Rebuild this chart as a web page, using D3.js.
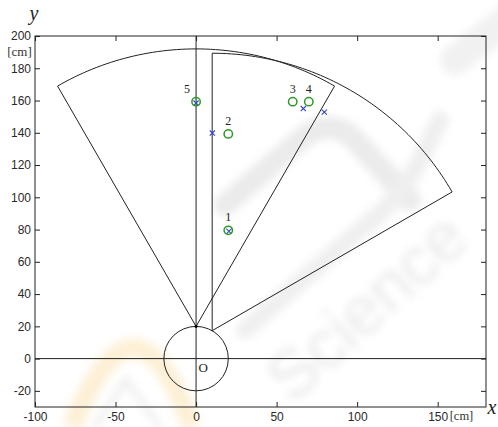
<!DOCTYPE html>
<html><head><meta charset="utf-8">
<script src="https://cdn.jsdelivr.net/npm/d3@7"></script>
<style>
html,body{margin:0;padding:0;background:#fff;}
svg{display:block;}
.tick text{font-family:"Liberation Sans",Arial,sans-serif;font-size:12px;fill:#2a2a2a;}
</style></head>
<body>
<svg id="c" width="498" height="427"></svg>
<script>
// ---- data ----
const xTicks = [-100, -50, 0, 50, 100, 150];
const yTicks = [-20, 0, 20, 40, 60, 80, 100, 120, 140, 160, 180, 200];
const xDomain = [-100, 180];
const yDomain = [-30, 200];
const robotRadius = 20;
const sensorMountAngle = [90, 60];   // degrees, position on robot circle
const sensorHeading = [90, 60];      // degrees, centre of field of view
const sensorFov = [60, 60];          // degrees
const sensorRange = [172, 172];      // cm
const targetLabels = ["1", "2", "3", "4", "5"];
const targetX = [20, 20, 60, 70, 0];
const targetY = [79.5, 139.3, 159.3, 159.3, 159.3];
const estX = [20.4, 10.1, 66.6, 79.6, 0];
const estY = [79, 139.8, 155, 152.8, 158.4];

// ---- layout ----
const svg = d3.select("#c");
const x = d3.scaleLinear().domain(xDomain).range([35, 486]);
const y = d3.scaleLinear().domain(yDomain).range([407, 36]);
const ink = "#222";
const serif = "Liberation Serif, Times New Roman, serif";

// ---- faint watermark ----
const defs = svg.append("defs");
defs.append("filter").attr("id", "blur").append("feGaussianBlur").attr("stdDeviation", 4);
const wm = svg.append("g").attr("filter", "url(#blur)").attr("opacity", 0.55);
wm.append("text").attr("transform", "translate(292,405) rotate(-42)")
  .attr("font-family", "Liberation Sans, Arial, sans-serif").attr("font-size", 68)
  .attr("fill", "#d9d9d9").text("Science");
wm.append("path").attr("d", "M225,205 L300,140 Q330,115 355,140 L410,200")
  .attr("fill", "none").attr("stroke", "#dadada").attr("stroke-width", 22).attr("stroke-linecap", "round");
wm.append("path").attr("d", "M245,330 L360,230 Q400,200 420,160 L440,120")
  .attr("fill", "none").attr("stroke", "#e2e2e2").attr("stroke-width", 18).attr("stroke-linecap", "round");
wm.append("path").attr("d", "M455,60 L520,10").attr("stroke", "#e6e6e6").attr("stroke-width", 30).attr("stroke-linecap", "round");
wm.append("path").attr("d", "M72,427 Q135,270 192,427")
  .attr("fill", "none").attr("stroke", "#fbe3b5").attr("stroke-width", 20);
wm.append("path").attr("d", "M95,427 L126,380 L160,427")
  .attr("fill", "none").attr("stroke", "#e0e0e0").attr("stroke-width", 6);

// ---- frame and axes ----
svg.append("rect").attr("x", x(xDomain[0])).attr("y", y(yDomain[1]))
  .attr("width", x(xDomain[1]) - x(xDomain[0])).attr("height", y(yDomain[0]) - y(yDomain[1]))
  .attr("fill", "none").attr("stroke", ink).attr("stroke-width", 1);

const fmt = d => String(d);
const ax = svg.append("g");
ax.append("g").attr("transform", `translate(0,${y(yDomain[0])})`)
  .call(d3.axisBottom(x).tickValues(xTicks).tickSize(-5).tickPadding(5).tickFormat(fmt));
ax.append("g").attr("transform", `translate(${x(xDomain[0])},0)`)
  .call(d3.axisLeft(y).tickValues(yTicks).tickSize(-5).tickPadding(4).tickFormat(fmt));
ax.append("g").attr("transform", `translate(0,${y(yDomain[1])})`)
  .call(d3.axisTop(x).tickValues(xTicks).tickSize(-5).tickFormat(""));
ax.append("g").attr("transform", `translate(${x(xDomain[1])},0)`)
  .call(d3.axisRight(y).tickValues(yTicks).tickSize(-5).tickFormat(""));
ax.selectAll(".domain").remove();
ax.selectAll(".tick line").attr("stroke", ink);

// unit labels
svg.append("text").attr("x", 19.5).attr("y", 56).attr("text-anchor", "middle")
  .attr("font-family", serif).attr("font-size", 13).attr("fill", "#333").text("[cm]");
svg.append("text").attr("x", 461.5).attr("y", 420).attr("text-anchor", "middle")
  .attr("font-family", serif).attr("font-size", 12.5).attr("fill", "#333").text("[cm]");
svg.append("text").attr("x", 34).attr("y", 20).attr("text-anchor", "middle")
  .attr("font-family", serif).attr("font-style", "italic").attr("font-size", 20).attr("fill", "#222").text("y");
svg.append("text").attr("x", 492).attr("y", 414).attr("text-anchor", "middle")
  .attr("font-family", serif).attr("font-style", "italic").attr("font-size", 20).attr("fill", "#222").text("x");

// ---- coordinate axes through origin ----
svg.append("line").attr("x1", x(xDomain[0])).attr("x2", x(xDomain[1])).attr("y1", y(0)).attr("y2", y(0)).attr("stroke", ink);
svg.append("line").attr("x1", x(0)).attr("x2", x(0)).attr("y1", y(yDomain[0])).attr("y2", y(yDomain[1])).attr("stroke", ink);

// ---- robot body ----
svg.append("circle").attr("cx", x(0)).attr("cy", y(0)).attr("r", x(robotRadius) - x(0))
  .attr("fill", "none").attr("stroke", ink);
svg.append("text").attr("x", x(4.5)).attr("y", y(-8.5)).attr("text-anchor", "middle")
  .attr("font-family", serif).attr("font-size", 13).attr("fill", "#222").text("O");

// ---- sensor fields of view ----
const rad = d => d * Math.PI / 180;
sensorMountAngle.forEach((m, i) => {
  const ox = robotRadius * Math.cos(rad(m)), oy = robotRadius * Math.sin(rad(m));
  const a0 = sensorHeading[i] - sensorFov[i] / 2, a1 = sensorHeading[i] + sensorFov[i] / 2;
  const pts = [[ox, oy]];
  d3.range(a0, a1 + 0.001, 1).forEach(a => pts.push([ox + sensorRange[i] * Math.cos(rad(a)), oy + sensorRange[i] * Math.sin(rad(a))]));
  pts.push([ox, oy]);
  svg.append("path").attr("d", d3.line().x(d => x(d[0])).y(d => y(d[1]))(pts))
    .attr("fill", "none").attr("stroke", ink).attr("stroke-width", 1);
  if (i === 0) svg.append("circle").attr("cx", x(ox)).attr("cy", y(oy)).attr("r", 1.6).attr("fill", "#000");
});

// ---- estimated positions (blue x) ----
const xs = 2.6;
estX.forEach((ex, i) => {
  const cx = x(ex), cy = y(estY[i]);
  svg.append("path").attr("d", `M${cx - xs},${cy - xs}L${cx + xs},${cy + xs}M${cx - xs},${cy + xs}L${cx + xs},${cy - xs}`)
    .attr("stroke", "#3344cc").attr("stroke-width", 1.1);
});

// ---- true targets (green o) ----
targetX.forEach((tx, i) => {
  svg.append("circle").attr("cx", x(tx)).attr("cy", y(targetY[i])).attr("r", 4.2)
    .attr("fill", "none").attr("stroke", "#2a9a2a").attr("stroke-width", 1.5);
  svg.append("text").attr("x", x(tx) + (i === 4 ? -9 : 0)).attr("y", y(targetY[i]) - 9)
    .attr("text-anchor", "middle").attr("font-family", serif)
    .attr("font-size", 12).attr("fill", "#222").text(targetLabels[i]);
});
</script>
</body></html>
